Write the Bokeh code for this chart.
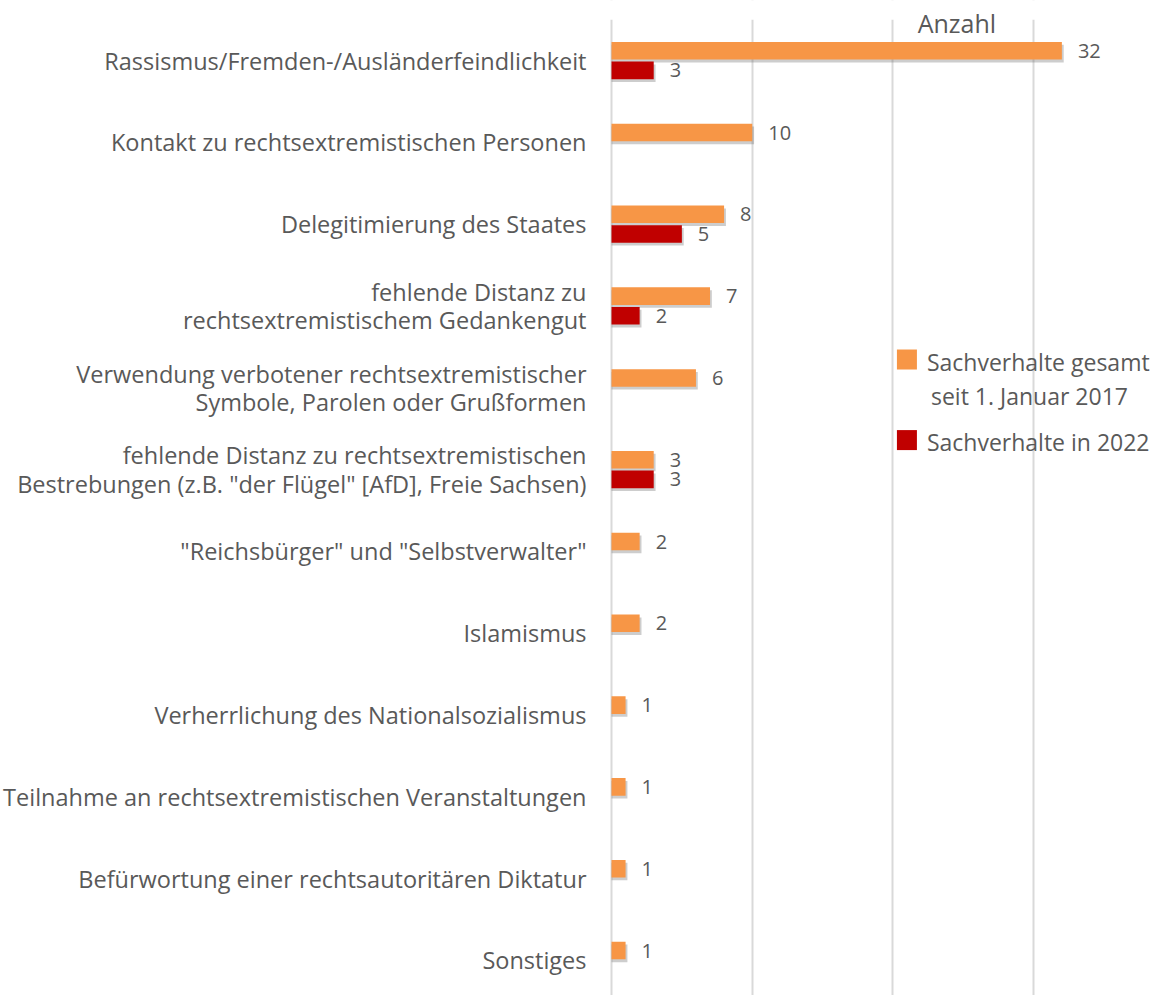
from bokeh.plotting import figure
from bokeh.models import Range1d, FixedTicker, Label, ColumnDataSource, BoxAnnotation
from bokeh.embed import file_html
from bokeh.resources import INLINE
from bokeh.core.properties import value

categories = [
    "Rassismus/Fremden-/Ausländerfeindlichkeit",
    "Kontakt zu rechtsextremistischen Personen",
    "Delegitimierung des Staates",
    "fehlende Distanz zu\nrechtsextremistischem Gedankengut",
    "Verwendung verbotener rechtsextremistischer\nSymbole, Parolen oder Grußformen",
    "fehlende Distanz zu rechtsextremistischen\nBestrebungen (z.B. \"der Flügel\" [AfD], Freie Sachsen)",
    "\"Reichsbürger\" und \"Selbstverwalter\"",
    "Islamismus",
    "Verherrlichung des Nationalsozialismus",
    "Teilnahme an rechtsextremistischen Veranstaltungen",
    "Befürwortung einer rechtsautoritären Diktatur",
    "Sonstiges",
]
gesamt = [32, 10, 8, 7, 6, 3, 2, 2, 1, 1, 1, 1]
in_2022 = [3, 0, 5, 2, 0, 3, 0, 0, 0, 0, 0, 0]
series_names = ["Sachverhalte gesamt\nseit 1. Januar 2017", "Sachverhalte in 2022"]
grid_ticks = [0, 10, 20, 30, 40]

FONT = "Open Sans"
GRAY = "#595959"
ORANGE = "#F79646"
RED = "#C00000"

rows = list(range(len(categories)))
off = 0.12
h = 0.215

src_o = ColumnDataSource(dict(
    y=[r - off for r in rows], v=gesamt,
    lbl=[str(v) for v in gesamt],
    ys=[r - off + 0.035 for r in rows],
    vs=[v + 0.13 for v in gesamt],
))
nz = [i for i, v in enumerate(in_2022) if v > 0]
src_r = ColumnDataSource(dict(
    y=[rows[i] + off for i in nz], v=[in_2022[i] for i in nz],
    lbl=[str(in_2022[i]) for i in nz],
    ys=[rows[i] + off + 0.035 for i in nz],
    vs=[in_2022[i] + 0.13 for i in nz],
))

p = figure(width=1172, height=995, x_range=Range1d(-0.142, 39.86), y_range=Range1d(11.43, -0.734),
           output_backend="svg", toolbar_location=None,
           min_border_left=608, min_border_right=0, min_border_top=0, min_border_bottom=0)
p.outline_line_color = None
p.xaxis.visible = False
p.ygrid.grid_line_color = None
p.xgrid.ticker = FixedTicker(ticks=grid_ticks)
p.xgrid.grid_line_color = "#d9d9d9"
p.xgrid.grid_line_width = 2

ax = p.yaxis[0]
ax.ticker = FixedTicker(ticks=rows)
ax.major_label_overrides = {r: c for r, c in zip(rows, categories)}
ax.major_tick_line_color = None
ax.minor_tick_line_color = None
ax.axis_line_color = None
ax.major_label_standoff = 17
ax.major_label_text_font = FONT
ax.major_label_text_font_size = "23.5px"
ax.major_label_text_color = GRAY
ax.major_label_text_line_height = 0.88

# white strip above the plot area so the grid starts below the top
p.add_layout(BoxAnnotation(bottom=-0.5, top=-0.734, fill_color="white", fill_alpha=1.0,
                           line_color=None, level="underlay"))

# shadows
for src in (src_o, src_r):
    p.hbar(y="ys", left=0, right="vs", height=h, source=src, fill_color="#6f6f6f",
           fill_alpha=0.35, line_color=None)

p.hbar(y="y", left=0, right="v", height=h, source=src_o, fill_color=ORANGE, line_color=None)
p.hbar(y="y", left=0, right="v", height=h, source=src_r, fill_color=RED, line_color=None)

for src in (src_o, src_r):
    p.text(x="v", y="y", text="lbl", source=src, x_offset=16, text_baseline="middle",
           text_align="left", text_font=value(FONT), text_font_size="20px", text_color=GRAY)

p.add_layout(Label(x=24.54, y=-0.465, text="Anzahl", text_align="center", text_baseline="middle",
                   text_font=FONT, text_font_size="25px", text_color=GRAY))

# legend
p.scatter(x=[20.99], y=[3.655], marker="square", size=20, fill_color=ORANGE, line_color=None)
p.scatter(x=[20.99], y=[4.64], marker="square", size=20, fill_color=RED, line_color=None)
l1, l2 = series_names[0].split("\n")
p.add_layout(Label(x=22.41, y=3.68, text=l1, text_align="left", text_baseline="middle",
                   text_font=FONT, text_font_size="23px", text_color=GRAY))
p.add_layout(Label(x=22.7, y=4.095, text=l2, text_align="left", text_baseline="middle",
                   text_font=FONT, text_font_size="23px", text_color=GRAY))
p.add_layout(Label(x=22.41, y=4.665, text=series_names[1], text_align="left", text_baseline="middle",
                   text_font=FONT, text_font_size="23px", text_color=GRAY))

open("out.html", "w").write(file_html(p, INLINE))
